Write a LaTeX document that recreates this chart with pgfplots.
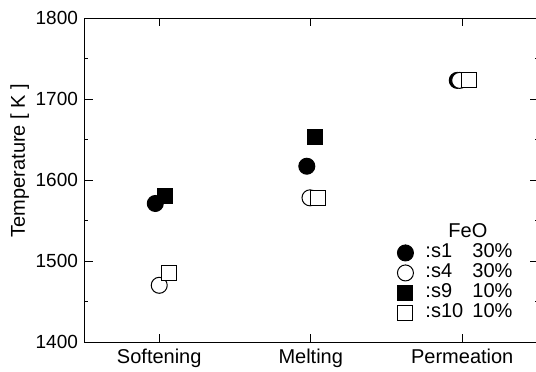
\documentclass[border=0pt]{standalone}
\usepackage{pgfplots}
\pgfplotsset{compat=1.18}
\usepackage{fontspec}
\setmainfont{Liberation Sans}
\begin{document}
\fontsize{10pt}{12pt}\selectfont
\begin{tikzpicture}
\begin{axis}[
  at={(42.5pt,14.5pt)}, anchor=south west,
  scale only axis, width=226.5pt, height=162pt,
  xmin=-0.49, xmax=2.5, ymin=1400, ymax=1800,
  xtick={0,1,2}, xticklabels={Softening,Melting,Permeation},
  ytick={1400,1500,...,1800}, minor ytick={1450,1550,1650,1750},
  tick align=inside, major tick length=4pt, minor tick length=1.5pt,
  tick style={black, line width=0.5pt},
  axis line style={line width=0.5pt},
  /pgf/number format/assume math mode=true,
  /pgf/number format/1000 sep={},
  ylabel={Temperature [ K ]},
  ylabel style={at={(axis description cs:-0.144,0.56)}, anchor=center, font=\fontsize{10pt}{12pt}\selectfont},
  xticklabel style={font=\fontsize{10pt}{12pt}\selectfont},
  yticklabel style={font=\fontsize{9.5pt}{11pt}\selectfont},
  legend image code/.code={\draw[#1] plot coordinates {(4pt,0pt)}; \path (0pt,-4pt) (13.75pt,4pt);},
  legend style={at={(axis cs:1.569,1547)}, anchor=north west, draw=none, fill=none,
    inner sep=0pt, outer sep=0pt, row sep=0pt,
    nodes={inner sep=0pt, text height=7.5pt, text depth=2.5pt, anchor=west},
    font=\fontsize{10pt}{12pt}\selectfont},
  legend cell align=left,
]
\addlegendimage{empty legend}
\addlegendentry{\hspace*{11.5pt}FeO}
\addplot[only marks, mark=*, mark size=4pt, draw=black, fill=black, line width=0.5pt]
  coordinates {(-0.026,1571) (0.974,1617) (1.967,1723)};
\addlegendentry{\makebox[23.5pt][l]{:s1}30\%}
\addplot[only marks, mark=*, mark size=4pt, draw=black, fill=white, line width=0.5pt]
  coordinates {(0,1470) (0.995,1578) (1.983,1723)};
\addlegendentry{\makebox[23.5pt][l]{:s4}30\%}
\addplot[only marks, mark=square*, mark size=3.75pt, draw=black, fill=black, line width=0.5pt]
  coordinates {(0.036,1580) (1.026,1653) (2.046,1723)};
\addlegendentry{\makebox[23.5pt][l]{:s9}10\%}
\addplot[only marks, mark=square*, mark size=3.75pt, draw=black, fill=white, line width=0.5pt]
  coordinates {(0.063,1485) (1.05,1578) (2.046,1723)};
\addlegendentry{\makebox[23.5pt][l]{:s10}10\%}
\end{axis}
\pgfresetboundingbox
\useasboundingbox (0,0) rectangle (268pt,185.5pt);
\end{tikzpicture}
\end{document}
